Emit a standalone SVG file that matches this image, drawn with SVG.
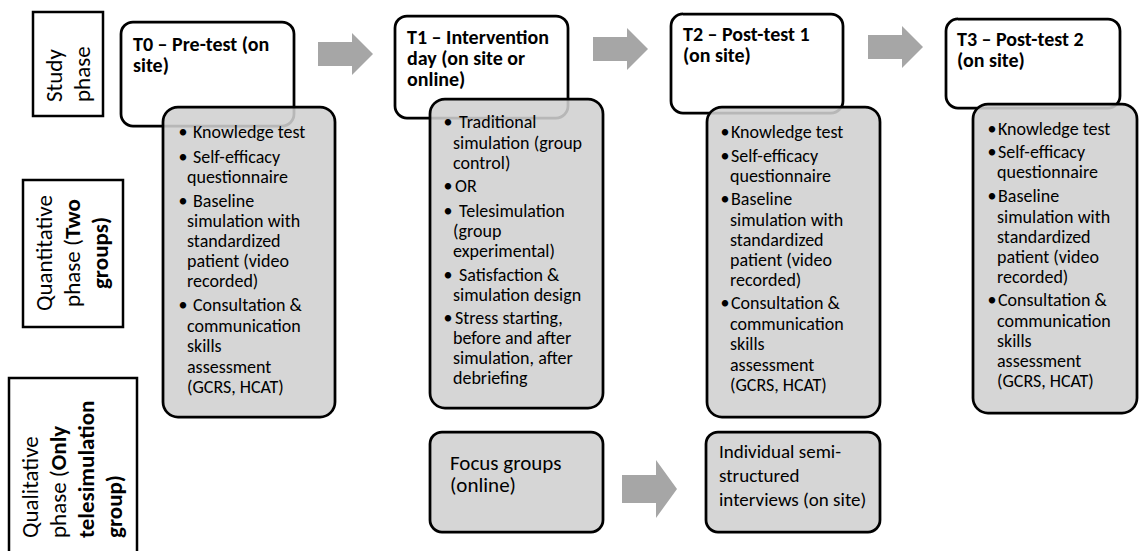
<svg xmlns="http://www.w3.org/2000/svg" width="1139" height="551" viewBox="0 0 1139 551">
<style>
.w{fill:#fff;stroke:#000;stroke-width:2.75}
.g{fill:#d0d0d0;fill-opacity:0.88;stroke:#000;stroke-width:2.75}
.lb{fill:#fff;stroke:#000;stroke-width:2.5}
.arr{fill:#a6a6a6}
text{font-family:Carlito,Lato,"Liberation Sans",sans-serif;fill:#000}
.s18{font-size:18px}
.ti{font-size:20px;font-weight:700}
.lab{font-size:23px}
.bd{font-weight:700}
.bu{font-size:18px;text-anchor:middle}
</style>
<rect width="1139" height="551" fill="#fff"/>

<g id="label-study">
<rect class="lb" x="33" y="12" width="70" height="104"/>
<text class="lab" transform="translate(62,102) rotate(-90)">Study</text>
<text class="lab" transform="translate(90,102) rotate(-90)">phase</text>
</g>
<g id="label-quant">
<rect class="lb" x="23" y="180" width="100" height="147"/>
<text class="lab" text-anchor="middle" transform="translate(52,253) rotate(-90)">Quantitative</text>
<text class="lab" text-anchor="middle" transform="translate(80,253) rotate(-90)">phase (<tspan class="bd">Two</tspan></text>
<text class="lab bd" text-anchor="middle" transform="translate(108,253) rotate(-90)">groups)</text>
</g>
<g id="label-qual">
<rect class="lb" x="9" y="378" width="128" height="185"/>
<text class="lab" transform="translate(38,538) rotate(-90)">Qualitative</text>
<text class="lab" transform="translate(66,538) rotate(-90)">phase (<tspan class="bd">Only</tspan></text>
<text class="lab bd" transform="translate(94,538) rotate(-90)">telesimulation</text>
<text class="lab bd" transform="translate(122,538) rotate(-90)">group)</text>
</g>

<g id="connectors">
<polygon class="arr" points="318,42 352,42 352,33 373,54 352,75 352,66 318,66"/>
<polygon class="arr" points="593,37 627,37 627,28 648,49 627,70 627,61 593,61"/>
<polygon class="arr" points="868,35 902,35 902,26 923,47 902,68 902,59 868,59"/>
<polygon class="arr" points="622,475 656,475 656,460 677,489 656,518 656,503 622,503"/>
</g>

<g id="t0">
<rect class="w" x="121" y="22" width="173" height="104" rx="12"/>
<text class="ti"><tspan x="133" y="51">T0 – Pre-test (on</tspan><tspan x="133" y="72">site)</tspan></text>
</g>
<g id="t0-list">
<rect class="g" x="163" y="107" width="172" height="310" rx="15"/>
<g class="s18">
<text class="bu" x="183" y="138">•</text><text x="193" y="138">Knowledge test</text>
<text class="bu" x="183" y="163">•</text><text x="193" y="163">Self-efficacy</text>
<text x="187" y="183">questionnaire</text>
<text class="bu" x="183" y="207">•</text><text x="193" y="207">Baseline</text>
<text x="187" y="227">simulation with</text>
<text x="187" y="247">standardized</text>
<text x="187" y="267">patient (video</text>
<text x="187" y="287">recorded)</text>
<text class="bu" x="183" y="311">•</text><text x="193" y="311">Consultation &amp;</text>
<text x="187" y="332">communication</text>
<text x="187" y="352">skills</text>
<text x="187" y="373">assessment</text>
<text x="187" y="393">(GCRS, HCAT)</text>
</g>
</g>

<g id="t1">
<rect class="w" x="395" y="16" width="173" height="102" rx="12"/>
<text class="ti"><tspan x="407" y="44">T1 – Intervention</tspan><tspan x="407" y="65">day (on site or</tspan><tspan x="407" y="86">online)</tspan></text>
</g>
<g id="t1-list">
<rect class="g" x="430" y="99" width="173" height="309" rx="15"/>
<g class="s18">
<text class="bu" x="448" y="128">•</text><text x="459" y="128">Traditional</text>
<text x="453" y="149">simulation (group</text>
<text x="453" y="169">control)</text>
<text class="bu" x="448" y="192">•</text><text x="455" y="192">OR</text>
<text class="bu" x="448" y="217">•</text><text x="459" y="217">Telesimulation</text>
<text x="453" y="237">(group</text>
<text x="453" y="257">experimental)</text>
<text class="bu" x="448" y="281">•</text><text x="459" y="281">Satisfaction &amp;</text>
<text x="453" y="301">simulation design</text>
<text class="bu" x="448" y="324">•</text><text x="455" y="324">Stress starting,</text>
<text x="453" y="344">before and after</text>
<text x="453" y="364">simulation, after</text>
<text x="453" y="384">debriefing</text>
</g>
</g>

<g id="t2">
<rect class="w" x="671" y="14" width="172" height="99" rx="12"/>
<text class="ti"><tspan x="683" y="41">T2 – Post-test 1</tspan><tspan x="683" y="62">(on site)</tspan></text>
</g>
<g id="t2-list">
<rect class="g" x="707" y="107" width="173" height="310" rx="15"/>
<g class="s18">
<text class="bu" x="725" y="138">•</text><text x="731" y="138">Knowledge test</text>
<text class="bu" x="725" y="162">•</text><text x="731" y="162">Self-efficacy</text>
<text x="730" y="182">questionnaire</text>
<text class="bu" x="725" y="205">•</text><text x="731" y="205">Baseline</text>
<text x="730" y="226">simulation with</text>
<text x="730" y="246">standardized</text>
<text x="730" y="266">patient (video</text>
<text x="730" y="286">recorded)</text>
<text class="bu" x="725" y="309">•</text><text x="731" y="309">Consultation &amp;</text>
<text x="730" y="330">communication</text>
<text x="730" y="350">skills</text>
<text x="730" y="371">assessment</text>
<text x="730" y="391">(GCRS, HCAT)</text>
</g>
</g>

<g id="t3">
<rect class="w" x="946" y="19" width="174" height="89" rx="12"/>
<text class="ti"><tspan x="957" y="46">T3 – Post-test 2</tspan><tspan x="957" y="67">(on site)</tspan></text>
</g>
<g id="t3-list">
<rect class="g" x="973" y="104" width="164" height="309" rx="15"/>
<g class="s18">
<text class="bu" x="992" y="135">•</text><text x="998" y="135">Knowledge test</text>
<text class="bu" x="992" y="158">•</text><text x="998" y="158">Self-efficacy</text>
<text x="997" y="178">questionnaire</text>
<text class="bu" x="992" y="202">•</text><text x="998" y="202">Baseline</text>
<text x="997" y="223">simulation with</text>
<text x="997" y="243">standardized</text>
<text x="997" y="263">patient (video</text>
<text x="997" y="283">recorded)</text>
<text class="bu" x="992" y="306">•</text><text x="998" y="306">Consultation &amp;</text>
<text x="997" y="327">communication</text>
<text x="997" y="347">skills</text>
<text x="997" y="367">assessment</text>
<text x="997" y="387">(GCRS, HCAT)</text>
</g>
</g>

<g id="focus">
<rect class="g" x="430" y="432" width="173" height="100" rx="12"/>
<text font-size="21"><tspan x="450" y="470">Focus groups</tspan><tspan x="450" y="492">(online)</tspan></text>
</g>
<g id="interviews">
<rect class="g" x="706" y="432" width="174" height="100" rx="12"/>
<text font-size="19"><tspan x="719" y="458">Individual semi-</tspan><tspan x="719" y="482">structured</tspan><tspan x="719" y="506">interviews (on site)</tspan></text>
</g>
</svg>
